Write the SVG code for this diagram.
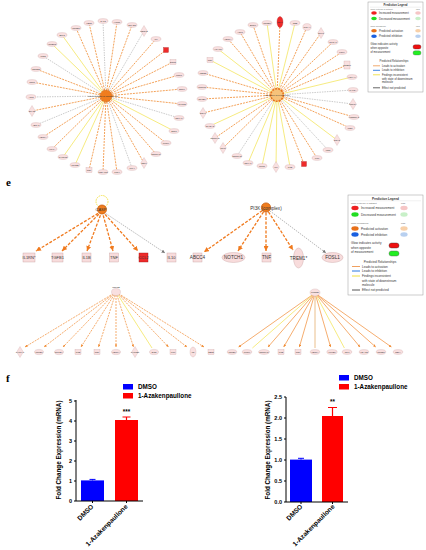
<svg xmlns="http://www.w3.org/2000/svg" xmlns:xlink="http://www.w3.org/1999/xlink" width="426" height="550" viewBox="0 0 426 550">
<defs>
<style>
text{font-family:"Liberation Sans",Arial,sans-serif;fill:#333}
.o{stroke:#f08a30;stroke-width:.8;stroke-dasharray:2 1;fill:none}
.g{stroke:#a8a8a8;stroke-width:.6;stroke-dasharray:1.5 1;fill:none}
.y{stroke:#f2e24a;stroke-width:.7;fill:none}
.os{stroke:#f08a30;stroke-width:.7;fill:none;marker-end:url(#as)}
.ods{stroke:#f08a30;stroke-width:.7;stroke-dasharray:2 1;fill:none;marker-end:url(#as)}
.ys{stroke:#f2e24a;stroke-width:.7;fill:none}
.ts{stroke:#e8b880;stroke-width:.9;fill:none}
.oa{stroke:#f07a1e;stroke-width:1.3;stroke-dasharray:3 1.5;fill:none;marker-end:url(#ao)}
.ga{stroke:#8a8a8a;stroke-width:.6;stroke-dasharray:1.5 1;fill:none;marker-end:url(#ag)}
.nd ellipse,.nd rect,.nd path,.nd polygon,.nd use{fill:#f9e0e0;stroke:#c9a2a2;stroke-width:.3}
.nd .red{fill:#ee2a2a;stroke:#a01818}
.nd text{font-size:2.2px;text-anchor:middle}
.md rect,.md ellipse{fill:#f8dcdc;stroke:#c8a0a0;stroke-width:.4}
.md .red{fill:#ee2a2a;stroke:#a01818}
.md text{font-size:4px;text-anchor:middle}
.ctr{fill:#f07d1e;stroke:#c85e10;stroke-width:.8}
.lg text{font-size:2.75px}
.lg .ttl{font-weight:bold;text-anchor:middle}
.lg .sm{font-size:2.1px;fill:#666}
.lg2 text{font-size:3.1px}
.lg2 .ttl{font-weight:bold;text-anchor:middle}
.lg2 .sm{font-size:2.4px;fill:#666}
.ax{stroke:#000;stroke-width:1;fill:none}
.tk{font-size:5.5px;font-weight:bold;text-anchor:end;fill:#000}
.cl{font-size:6.3px;font-weight:bold;fill:#000}
.xl{font-size:6.6px;font-weight:bold;fill:#000;text-anchor:end}
.pl{font-family:"Liberation Serif","Times New Roman",serif;font-weight:bold;font-size:11px;fill:#000}
</style>
<marker id="ao" viewBox="0 0 10 10" refX="10" refY="5" markerWidth="5" markerHeight="5" markerUnits="userSpaceOnUse" orient="auto"><path d="M0,0 L10,5 L0,10 Z" fill="#f07a1e"/></marker>
<marker id="ag" viewBox="0 0 10 10" refX="10" refY="5" markerWidth="3.5" markerHeight="3.5" markerUnits="userSpaceOnUse" orient="auto"><path d="M0,0 L10,5 L0,10 Z" fill="#777"/></marker>
<marker id="as" viewBox="0 0 10 10" refX="10" refY="5" markerWidth="2.6" markerHeight="2.6" markerUnits="userSpaceOnUse" orient="auto"><path d="M0,0 L10,5 L0,10 Z" fill="#f08a30"/></marker>
<path id="dia" d="M0,-5.5 L3.3,0 L0,5.5 L-3.3,0 Z"/>
</defs>
<rect width="426" height="550" fill="#fff"/>

<!-- connectors -->
<g id="connectors">
<g id="edges-top-left">
<line x1="106" y1="96" x2="103" y2="21" class="g"/>
<line x1="106" y1="96" x2="117" y2="22" class="o"/>
<line x1="106" y1="96" x2="132" y2="25" class="o"/>
<line x1="106" y1="96" x2="144" y2="31" class="g"/>
<line x1="106" y1="96" x2="156" y2="39" class="o"/>
<line x1="106" y1="96" x2="166" y2="50" class="o"/>
<line x1="106" y1="96" x2="173" y2="62" class="o"/>
<line x1="106" y1="96" x2="179" y2="75" class="o"/>
<line x1="106" y1="96" x2="182" y2="89" class="o"/>
<line x1="106" y1="96" x2="182" y2="104" class="o"/>
<line x1="106" y1="96" x2="179" y2="118" class="g"/>
<line x1="106" y1="96" x2="174" y2="131" class="y"/>
<line x1="106" y1="96" x2="166" y2="143" class="o"/>
<line x1="106" y1="96" x2="156" y2="154" class="o"/>
<line x1="106" y1="96" x2="144" y2="163" class="o"/>
<line x1="106" y1="96" x2="132" y2="168" class="g"/>
<line x1="106" y1="96" x2="117" y2="172" class="o"/>
<line x1="106" y1="96" x2="103" y2="172" class="o"/>
<line x1="106" y1="96" x2="89" y2="170" class="o"/>
<line x1="106" y1="96" x2="75" y2="165" class="y"/>
<line x1="106" y1="96" x2="63" y2="157" class="y"/>
<line x1="106" y1="96" x2="52" y2="149" class="o"/>
<line x1="106" y1="96" x2="43" y2="137" class="o"/>
<line x1="106" y1="96" x2="36" y2="125" class="g"/>
<line x1="106" y1="96" x2="32" y2="111" class="o"/>
<line x1="106" y1="96" x2="31" y2="97" class="g"/>
<line x1="106" y1="96" x2="32" y2="82" class="o"/>
<line x1="106" y1="96" x2="36" y2="69" class="o"/>
<line x1="106" y1="96" x2="43" y2="56" class="g"/>
<line x1="106" y1="96" x2="52" y2="44" class="y"/>
<line x1="106" y1="96" x2="62" y2="35" class="y"/>
<line x1="106" y1="96" x2="76" y2="28" class="o"/>
<line x1="106" y1="96" x2="89" y2="23" class="o"/>
</g>
<g id="edges-top-right">
<line x1="277" y1="95" x2="240" y2="32" class="o"/>
<line x1="277" y1="95" x2="253" y2="25" class="o"/>
<line x1="277" y1="95" x2="267" y2="23" class="y"/>
<line x1="277" y1="95" x2="280" y2="23" class="o"/>
<line x1="277" y1="95" x2="295" y2="23" class="y"/>
<line x1="277" y1="95" x2="307" y2="27" class="o"/>
<line x1="277" y1="95" x2="321" y2="33" class="o"/>
<line x1="277" y1="95" x2="333" y2="42" class="o"/>
<line x1="277" y1="95" x2="342" y2="52" class="o"/>
<line x1="277" y1="95" x2="347" y2="65" class="o"/>
<line x1="277" y1="95" x2="352" y2="77" class="y"/>
<line x1="277" y1="95" x2="353" y2="90" class="g"/>
<line x1="277" y1="95" x2="353" y2="104" class="g"/>
<line x1="277" y1="95" x2="354" y2="117" class="o"/>
<line x1="277" y1="95" x2="350" y2="128" class="o"/>
<line x1="277" y1="95" x2="337" y2="140" class="y"/>
<line x1="277" y1="95" x2="328" y2="150" class="g"/>
<line x1="277" y1="95" x2="317" y2="158" class="o"/>
<line x1="277" y1="95" x2="304" y2="164" class="o"/>
<line x1="277" y1="95" x2="290" y2="167" class="y"/>
<line x1="277" y1="95" x2="276" y2="167" class="y"/>
<line x1="277" y1="95" x2="262" y2="166" class="y"/>
<line x1="277" y1="95" x2="248" y2="163" class="y"/>
<line x1="277" y1="95" x2="237" y2="156" class="g"/>
<line x1="277" y1="95" x2="223" y2="148" class="o"/>
<line x1="277" y1="95" x2="215" y2="138" class="o"/>
<line x1="277" y1="95" x2="210" y2="126" class="y"/>
<line x1="277" y1="95" x2="203" y2="113" class="o"/>
<line x1="277" y1="95" x2="202" y2="99" class="o"/>
<line x1="277" y1="95" x2="202" y2="87" class="o"/>
<line x1="277" y1="95" x2="203" y2="73" class="o"/>
<line x1="277" y1="95" x2="210" y2="60" class="y"/>
<line x1="277" y1="95" x2="218" y2="49" class="y"/>
<line x1="277" y1="95" x2="228" y2="39" class="o"/>
</g>
<g id="edges-mid">
<line x1="102" y1="211" x2="36" y2="251" class="oa"/>
<line x1="102" y1="211" x2="62" y2="251" class="oa"/>
<line x1="102" y1="211" x2="87" y2="251" class="oa"/>
<line x1="102" y1="211" x2="113" y2="251" class="oa"/>
<line x1="102" y1="211" x2="138" y2="251" class="oa"/>
<line x1="102" y1="211" x2="165" y2="253" class="ga"/>
<line x1="266" y1="208" x2="204" y2="252" class="oa"/>
<line x1="266" y1="208" x2="238" y2="251" class="oa"/>
<line x1="266" y1="208" x2="266" y2="251" class="oa"/>
<line x1="266" y1="208" x2="293" y2="250" class="oa"/>
<line x1="266" y1="208" x2="326" y2="253" class="ga"/>
</g>
<g id="edges-bottom-left">
<line x1="116" y1="292" x2="25" y2="347" class="ods"/>
<line x1="116" y1="292" x2="44" y2="347" class="ods"/>
<line x1="116" y1="292" x2="63" y2="347" class="ods"/>
<line x1="116" y1="292" x2="81" y2="347" class="ods"/>
<line x1="116" y1="292" x2="98.5" y2="347" class="ods"/>
<line x1="116" y1="292" x2="116" y2="347" class="ods"/>
<line x1="116" y1="292" x2="133.5" y2="347" class="ods"/>
<line x1="116" y1="292" x2="152" y2="348" class="ys"/>
<line x1="116" y1="292" x2="168.5" y2="347" class="ods"/>
<line x1="116" y1="292" x2="187" y2="347" class="ods"/>
<line x1="116" y1="292" x2="204" y2="347" class="ods"/>
</g>
<g id="edges-bottom-right">
<line x1="315" y1="293" x2="238.6" y2="347" class="os"/>
<line x1="315" y1="293" x2="252.4" y2="348" class="ys"/>
<line x1="315" y1="293" x2="268" y2="347" class="os"/>
<line x1="315" y1="293" x2="283.7" y2="347" class="os"/>
<line x1="315" y1="293" x2="299.4" y2="347" class="os"/>
<line x1="315" y1="293" x2="315" y2="348" class="ts"/>
<line x1="315" y1="293" x2="330.6" y2="347" class="os"/>
<line x1="315" y1="293" x2="344.4" y2="348" class="ys"/>
<line x1="315" y1="293" x2="360" y2="347" class="os"/>
<line x1="315" y1="293" x2="375.7" y2="347" class="os"/>
<line x1="315" y1="293" x2="391.4" y2="347" class="os"/>
</g>
</g>

<!-- top-left network nodes -->
<g class="nd">
<g id="tl-center"><circle cx="106" cy="96" r="6" class="ctr" stroke-dasharray="1.5 1"/><text x="103" y="97" style="font-size:2.4px">differentiation of phagocytes</text></g>
<g id="tl1"><ellipse cx="103" cy="21" rx="5" ry="2.4"/><text x="103" y="21.8">GAL3</text></g>
<g id="tl2"><ellipse cx="117" cy="22" rx="5" ry="2.4"/><text x="117" y="22.8">HCCR</text></g>
<g id="tl3"><ellipse cx="132" cy="25" rx="5" ry="2.4"/><text x="132" y="25.8">SMAD3</text></g>
<g id="tl4"><use xlink:href="#dia" x="144" y="31"/><text x="144" y="31.8">MEOX2</text></g>
<g id="tl5"><ellipse cx="156" cy="39" rx="5" ry="2.4"/><text x="156" y="39.8">IL6</text></g>
<g id="tl6"><rect x="163.5" y="47.5" width="5" height="5" class="red"/></g>
<g id="tl7"><rect x="170" y="59.5" width="6" height="5"/><text x="173" y="62.8">EGR1</text></g>
<g id="tl8"><ellipse cx="179" cy="75" rx="5" ry="2.4"/><text x="179" y="75.8">MCP1</text></g>
<g id="tl9"><ellipse cx="182" cy="89" rx="5" ry="2.4"/><text x="182" y="89.8">BCL6</text></g>
<g id="tl10"><ellipse cx="182" cy="104" rx="5" ry="2.4"/><text x="182" y="104.8">CXCR2</text></g>
<g id="tl11"><ellipse cx="179" cy="118" rx="5" ry="2.4"/><text x="179" y="118.8">NR4A1</text></g>
<g id="tl12"><ellipse cx="174" cy="131" rx="5" ry="2.4"/><text x="174" y="131.8">SPP1</text></g>
<g id="tl13"><ellipse cx="166" cy="143" rx="5" ry="2.4"/><text x="166" y="143.8">MMP9</text></g>
<g id="tl14"><ellipse cx="156" cy="154" rx="5" ry="2.4"/><text x="156" y="154.8">NOTCH1</text></g>
<g id="tl15"><use xlink:href="#dia" x="144" y="163"/><text x="144" y="163.8">CD14</text></g>
<g id="tl16"><ellipse cx="132" cy="168" rx="5" ry="2.4"/><text x="132" y="168.8">KLF4</text></g>
<g id="tl17"><ellipse cx="117" cy="172" rx="5" ry="2.4"/><text x="117" y="172.8">TLR4</text></g>
<g id="tl18"><ellipse cx="103" cy="172" rx="5" ry="2.4"/><text x="103" y="172.8">TNFAIP3</text></g>
<g id="tl19"><rect x="86" y="167.5" width="6" height="5"/><text x="89" y="170.8">TNF</text></g>
<g id="tl20"><ellipse cx="75" cy="165" rx="5" ry="2.4"/><text x="75" y="165.8">PTGS2</text></g>
<g id="tl21"><ellipse cx="63" cy="157" rx="5" ry="2.4"/><text x="63" y="157.8">CXCL12</text></g>
<g id="tl22"><ellipse cx="52" cy="149" rx="5" ry="2.4"/><text x="52" y="149.8">HIF1A</text></g>
<g id="tl23"><ellipse cx="43" cy="137" rx="5" ry="2.4"/><text x="43" y="137.8">VEGFA</text></g>
<g id="tl24"><ellipse cx="36" cy="125" rx="5" ry="2.4"/><text x="36" y="125.8">ABCA1</text></g>
<g id="tl25"><use xlink:href="#dia" x="32" y="111"/><text x="32" y="111.8">STAT3</text></g>
<g id="tl26"><ellipse cx="31" cy="97" rx="5" ry="2.4"/><text x="31" y="97.8">ATF3</text></g>
<g id="tl27"><ellipse cx="32" cy="82" rx="5" ry="2.4"/><text x="32" y="82.8">CCL5</text></g>
<g id="tl28"><ellipse cx="36" cy="69" rx="5" ry="2.4"/><text x="36" y="69.8">SOCS3</text></g>
<g id="tl29"><ellipse cx="43" cy="56" rx="5" ry="2.4"/><text x="43" y="56.8">ICOS</text></g>
<g id="tl30"><ellipse cx="52" cy="44" rx="5" ry="2.4"/><text x="52" y="44.8">IGFBP3</text></g>
<g id="tl31"><ellipse cx="62" cy="35" rx="5" ry="2.4"/><text x="62" y="35.8">ELF3</text></g>
<g id="tl32"><ellipse cx="76" cy="28" rx="5" ry="2.4"/><text x="76" y="28.8">CCND1</text></g>
<g id="tl33"><ellipse cx="89" cy="23" rx="5" ry="2.4"/><text x="89" y="23.8">HES1</text></g>
</g>

<!-- top-right network nodes -->
<g class="nd">
<g id="tr-center"><circle cx="277" cy="95" r="6.3" fill="#f6c27a" stroke="#e8731a" stroke-width="1.6" stroke-dasharray="2 1"/><text x="277" y="96" style="font-size:2.4px">activation of leukocytes</text></g>
<g id="tr1"><ellipse cx="240" cy="32" rx="5" ry="2.4"/><text x="240" y="32.8">AQP1</text></g>
<g id="tr2"><ellipse cx="253" cy="25" rx="5" ry="2.4"/><text x="253" y="25.8">BMP6</text></g>
<g id="tr3"><ellipse cx="267" cy="23" rx="5" ry="2.4"/><text x="267" y="23.8">CCND1</text></g>
<g id="tr4"><ellipse cx="280" cy="22" rx="3" ry="5.5" class="red"/><text x="280" y="22.8">CD44</text></g>
<g id="tr5"><ellipse cx="295" cy="23" rx="5" ry="2.4"/><text x="295" y="23.8">CSB</text></g>
<g id="tr6"><ellipse cx="307" cy="27" rx="4.2" ry="3.4"/><text x="307" y="27.8">CTLA4</text></g>
<g id="tr7"><use xlink:href="#dia" x="321" y="33"/><text x="321" y="33.8">DKK1</text></g>
<g id="tr8"><ellipse cx="333" cy="42" rx="5" ry="2.4"/><text x="333" y="42.8">GFRA1</text></g>
<g id="tr9"><ellipse cx="342" cy="52" rx="5" ry="2.4"/><text x="342" y="52.8">FGF9</text></g>
<g id="tr10"><rect x="344" y="61" width="6" height="8"/><text x="347" y="65.8">GREM1</text></g>
<g id="tr11"><ellipse cx="352" cy="77" rx="5" ry="2.4"/><text x="352" y="77.8">HOXA9</text></g>
<g id="tr12"><ellipse cx="353" cy="90" rx="5" ry="2.4"/><text x="353" y="90.8">PAK2A</text></g>
<g id="tr13"><use xlink:href="#dia" x="353" y="104"/><text x="353" y="104.8">PRKCA</text></g>
<g id="tr14"><ellipse cx="354" cy="117" rx="5" ry="2.4"/><text x="354" y="117.8">HNRNPA1</text></g>
<g id="tr15"><ellipse cx="350" cy="128" rx="5" ry="2.4"/><text x="350" y="128.8">IRS1</text></g>
<g id="tr16"><use xlink:href="#dia" x="337" y="140"/><text x="337" y="140.8">SOX2</text></g>
<g id="tr17"><ellipse cx="328" cy="150" rx="5" ry="2.4"/><text x="328" y="150.8">KDR</text></g>
<g id="tr18"><ellipse cx="317" cy="158" rx="5" ry="2.4"/><text x="317" y="158.8">IL10</text></g>
<g id="tr19"><rect x="301.5" y="161.5" width="5" height="5" class="red"/></g>
<g id="tr20"><ellipse cx="290" cy="167" rx="5" ry="2.4"/><text x="290" y="167.8">IL1B</text></g>
<g id="tr21"><use xlink:href="#dia" x="276" y="167"/><text x="276" y="167.8">ILK</text></g>
<g id="tr22"><ellipse cx="262" cy="166" rx="5" ry="2.4"/><text x="262" y="166.8">MUC1</text></g>
<g id="tr23"><ellipse cx="248" cy="163" rx="5" ry="2.4"/><text x="248" y="163.8">NR4A1</text></g>
<g id="tr24"><ellipse cx="237" cy="156" rx="5" ry="2.4"/><text x="237" y="156.8">NOTCH3</text></g>
<g id="tr25"><use xlink:href="#dia" x="223" y="148"/><text x="223" y="148.8">PPIG</text></g>
<g id="tr26"><use xlink:href="#dia" x="215" y="138"/><text x="215" y="138.8">NOTCH2</text></g>
<g id="tr27"><ellipse cx="210" cy="126" rx="5" ry="2.4"/><text x="210" y="126.8">SHISA3</text></g>
<g id="tr28"><use xlink:href="#dia" x="203" y="113"/><text x="203" y="113.8">SOX9</text></g>
<g id="tr29"><ellipse cx="202" cy="99" rx="5" ry="2.4"/><text x="202" y="99.8">NFKB1</text></g>
<g id="tr30"><ellipse cx="202" cy="87" rx="5" ry="2.4"/><text x="202" y="87.8">MMP13</text></g>
<g id="tr31"><ellipse cx="203" cy="73" rx="5" ry="2.4"/><text x="203" y="73.8">MEIS2</text></g>
<g id="tr32"><rect x="207" y="57.5" width="6" height="5"/><text x="210" y="60.8">TNF</text></g>
<g id="tr33"><ellipse cx="218" cy="49" rx="5" ry="2.4"/><text x="218" y="49.8">VCAM1</text></g>
<g id="tr34"><ellipse cx="228" cy="39" rx="5" ry="2.4"/><text x="228" y="39.8">VEGFA</text></g>
</g>

<!-- legend 1 -->
<g id="legend1" class="lg">
<rect x="368" y="2" width="55" height="90" fill="#fff" stroke="#9a9a9a" stroke-width=".5"/>
<text x="395.5" y="6" class="ttl">Prediction Legend</text>
<line x1="370" y1="7.2" x2="421" y2="7.2" stroke="#ccc" stroke-width=".3"/>
<text x="370.5" y="10" class="sm">more extreme in dataset</text><text x="416" y="10" class="sm">less</text>
<ellipse cx="374" cy="13" rx="2.8" ry="1.7" fill="#ee2020"/><text x="379" y="14">Increased measurement</text><ellipse cx="418" cy="13" rx="2.8" ry="1.7" fill="#f6c6c6"/>
<ellipse cx="374" cy="18.5" rx="2.8" ry="1.7" fill="#22dd22"/><text x="379" y="19.5">Decreased measurement</text><ellipse cx="418" cy="18.5" rx="2.8" ry="1.7" fill="#c8f0c8"/>
<text x="370.5" y="27" class="sm">more confidence</text><text x="416" y="27" class="sm">less</text>
<ellipse cx="374" cy="30.8" rx="2.8" ry="1.7" fill="#e8701a"/><text x="379" y="31.8">Predicted activation</text><ellipse cx="418" cy="30.8" rx="2.8" ry="1.7" fill="#f8d0a8"/>
<ellipse cx="374" cy="36.3" rx="2.8" ry="1.7" fill="#1a60e0"/><text x="379" y="37.3">Predicted inhibition</text><ellipse cx="418" cy="36.3" rx="2.8" ry="1.7" fill="#b8d0f0"/>
<text x="370.5" y="45">Glow indicates activity</text><text x="370.5" y="49">when opposite</text><text x="370.5" y="53">of measurement</text>
<rect x="413" y="44.8" width="8" height="4.2" rx="2" fill="#ee1010" stroke="#333" stroke-width=".3"/>
<rect x="413" y="50.8" width="8" height="4.2" rx="2" fill="#22ee22" stroke="#555" stroke-width=".3"/>
<text x="394" y="62" text-anchor="middle">Predicted Relationships</text>
<line x1="373" y1="65.8" x2="380" y2="65.8" stroke="#f0a060" stroke-width=".9"/><text x="382" y="66.8">Leads to activation</text>
<line x1="373" y1="70.3" x2="380" y2="70.3" stroke="#2a78e0" stroke-width=".9"/><text x="382" y="71.3">Leads to inhibition</text>
<line x1="373" y1="74.8" x2="380" y2="74.8" stroke="#f0e040" stroke-width=".9"/><text x="382" y="75.8">Findings inconsistent</text><text x="382" y="79.5">with state of downstream</text><text x="382" y="83.2">molecule</text>
<line x1="373" y1="87.8" x2="380" y2="87.8" stroke="#555" stroke-width=".9"/><text x="382" y="88.8">Effect not predicted</text>
</g>

<text x="6" y="186" class="pl">e</text>

<!-- middle row -->
<g class="md">
<g id="casp"><circle cx="102" cy="201.5" r="6" fill="none" stroke="#f2e040" stroke-width=".9" stroke-dasharray="1.6 .8"/><circle cx="102" cy="209.5" r="4.5" class="ctr"/><text x="101" y="211">CASP</text></g>
<g id="il1rn"><rect x="23" y="253" width="12" height="9"/><text x="29" y="259.3">IL1RN*</text></g>
<g id="tgfb1"><rect x="52" y="253" width="11" height="9"/><text x="57.5" y="259.3">TGFB1</text></g>
<g id="il1b"><rect x="82" y="253" width="9" height="9"/><text x="86.5" y="259.3">IL1B</text></g>
<g id="tnf1"><rect x="109.5" y="253" width="9" height="9"/><text x="114" y="259.3">TNF</text></g>
<g id="ccl2"><rect x="139" y="253" width="9" height="9" class="red"/><text x="143.5" y="259.3">CCL2</text></g>
<g id="il10"><rect x="167" y="253" width="9" height="9"/><text x="171.5" y="259.3">IL10</text></g>
<g id="pi3k"><circle cx="266" cy="207.5" r="4.6" class="ctr"/><text x="266" y="210" style="font-size:4.6px">PI3K (complex)</text></g>
<g id="abcc4"><rect x="193" y="253" width="9" height="9"/><text x="197.5" y="259.3" style="font-size:4.6px">ABCC4</text></g>
<g id="notch1"><ellipse cx="233.5" cy="257.5" rx="11.5" ry="5"/><text x="233.5" y="259.2" style="font-size:4.6px">NOTCH1</text></g>
<g id="tnf2"><rect x="262" y="253" width="9" height="9"/><text x="266.5" y="259.3" style="font-size:4.6px">TNF</text></g>
<g id="trem1"><ellipse cx="298.5" cy="258" rx="5" ry="10"/><text x="298.5" y="259.7" style="font-size:4.6px">TREM1*</text></g>
<g id="fosl1"><ellipse cx="332.5" cy="257.5" rx="10.5" ry="5"/><text x="332.5" y="259.2" style="font-size:4.6px">FOSL1</text></g>
</g>

<!-- legend 2 -->
<g id="legend2" class="lg2">
<rect x="348" y="195" width="75" height="100" fill="#fff" stroke="#9a9a9a" stroke-width=".5"/>
<text x="385.5" y="199.5" class="ttl">Prediction Legend</text>
<line x1="350" y1="200.8" x2="421" y2="200.8" stroke="#ccc" stroke-width=".3"/>
<text x="351" y="203.5" class="sm">more extreme in dataset</text><text x="401" y="203.5" class="sm">less</text>
<ellipse cx="355" cy="208" rx="3.6" ry="2.2" fill="#ee2020"/><text x="361" y="209.1">Increased measurement</text><ellipse cx="404" cy="208" rx="3.6" ry="2.2" fill="#f6c6c6"/>
<ellipse cx="355" cy="214.5" rx="3.6" ry="2.2" fill="#22dd22"/><text x="361" y="215.6">Decreased measurement</text><ellipse cx="404" cy="214.5" rx="3.6" ry="2.2" fill="#c8f0c8"/>
<text x="351" y="223.5" class="sm">more confidence</text><text x="401" y="223.5" class="sm">less</text>
<ellipse cx="355" cy="228.5" rx="3.6" ry="2.2" fill="#e8701a"/><text x="361" y="229.6">Predicted activation</text><ellipse cx="404" cy="228.5" rx="3.6" ry="2.2" fill="#f8d0a8"/>
<ellipse cx="355" cy="234.5" rx="3.6" ry="2.2" fill="#1a60e0"/><text x="361" y="235.6">Predicted inhibition</text><ellipse cx="404" cy="234.5" rx="3.6" ry="2.2" fill="#b8d0f0"/>
<text x="351" y="244">Glow indicates activity</text><text x="351" y="248.5">when opposite</text><text x="351" y="253">of measurement</text>
<rect x="389" y="243" width="10" height="5" rx="2.5" fill="#ee1010" stroke="#333" stroke-width=".4"/>
<rect x="389" y="251" width="10" height="5" rx="2.5" fill="#22ee22" stroke="#555" stroke-width=".4"/>
<text x="380" y="263" text-anchor="middle">Predicted Relationships</text>
<line x1="352" y1="266.5" x2="360" y2="266.5" stroke="#f0a060" stroke-width="1"/><text x="362" y="267.6">Leads to activation</text>
<line x1="352" y1="271" x2="360" y2="271" stroke="#2a78e0" stroke-width="1"/><text x="362" y="272.1">Leads to inhibition</text>
<line x1="352" y1="276" x2="360" y2="276" stroke="#f0e040" stroke-width="1"/><text x="362" y="277.1">Findings inconsistent</text><text x="362" y="281.5">with state of downstream</text><text x="362" y="286">molecule</text>
<line x1="352" y1="290" x2="360" y2="290" stroke="#555" stroke-width="1"/><text x="362" y="291.1">Effect not predicted</text>
</g>

<!-- bottom-left network -->
<g class="nd">
<g id="bl-center"><ellipse cx="116" cy="292" rx="4.5" ry="3.5" class="ctr"/><text x="116" y="288" style="font-size:2.3px">GSK3B</text></g>
<g id="bl1"><use xlink:href="#dia" x="20" y="352"/><text x="20" y="352.8">CYP1A1</text></g>
<g id="bl2"><ellipse cx="39" cy="352" rx="4.5" ry="2.6"/><text x="39" y="352.8">TGFB1</text></g>
<g id="bl3"><ellipse cx="59" cy="352" rx="4.5" ry="2.6"/><text x="59" y="352.8">NFKBIA</text></g>
<g id="bl4"><rect x="75" y="349.5" width="6" height="5"/><text x="78" y="352.8">IL1B</text></g>
<g id="bl5"><rect x="94" y="349.5" width="6" height="5"/><text x="97" y="352.8">TNF</text></g>
<g id="bl6"><ellipse cx="116" cy="352" rx="4.5" ry="2.6"/><text x="116" y="352.8">VEGFA</text></g>
<g id="bl7"><use xlink:href="#dia" x="135" y="352"/><text x="135" y="352.8">CYP1B1</text></g>
<g id="bl8"><ellipse cx="154" cy="352" rx="4.5" ry="2.6"/><text x="154" y="352.8">IDO1</text></g>
<g id="bl9"><rect x="170" y="349.5" width="6" height="5"/><text x="173" y="352.8">IL10</text></g>
<g id="bl10"><ellipse cx="193" cy="352" rx="3" ry="5"/><text x="193" y="352.8">F3</text></g>
<g id="bl11"><rect x="208" y="349.5" width="6" height="5"/><text x="211" y="352.8">SELE</text></g>
</g>

<!-- bottom-right network -->
<g class="nd">
<g id="br-center"><ellipse cx="315" cy="292.5" rx="5" ry="3.6" class="ctr"/><text x="315" y="293.3" style="font-size:2px">CTNNB1</text></g>
<g id="br1"><ellipse cx="232" cy="352" rx="4.8" ry="2.4"/><text x="232" y="352.8">TGFB1</text></g>
<g id="br2"><ellipse cx="247" cy="352" rx="4.8" ry="2.4"/><text x="247" y="352.8">MMP9</text></g>
<g id="br3"><ellipse cx="264" cy="352" rx="5.5" ry="2.4"/><text x="264" y="352.8">NOTCH1</text></g>
<g id="br4"><rect x="278" y="349.5" width="6" height="5"/><text x="281" y="352.8">IL1B</text></g>
<g id="br5"><rect x="295" y="349.5" width="6" height="5"/><text x="298" y="352.8">TNF</text></g>
<g id="br6"><ellipse cx="315" cy="352" rx="4.8" ry="2.4"/><text x="315" y="352.8">VEGFA</text></g>
<g id="br7"><ellipse cx="332" cy="352" rx="5.2" ry="2.4"/><text x="332" y="352.8">KLKB1</text></g>
<g id="br8"><ellipse cx="347" cy="352" rx="4.8" ry="2.4"/><text x="347" y="352.8">IRF7</text></g>
<g id="br9"><ellipse cx="364" cy="352" rx="4.8" ry="2.4"/><text x="364" y="352.8">HDAC2</text></g>
<g id="br10"><ellipse cx="381" cy="352" rx="4.8" ry="2.4"/><text x="381" y="352.8">CCND1</text></g>
<g id="br11"><ellipse cx="398" cy="352" rx="4.8" ry="2.4"/><text x="398" y="352.8">RELA</text></g>
</g>

<text x="6" y="382" class="pl">f</text>

<!-- chart 1 -->
<g id="chart1">
<rect x="123" y="384" width="10" height="5.5" fill="#0000ff"/><text x="138" y="389.2" class="cl">DMSO</text>
<rect x="123" y="393" width="10" height="5.5" fill="#ff0000"/><text x="138" y="398.2" class="cl">1-Azakenpaullone</text>
<text transform="translate(61,450) rotate(-90)" class="cl" text-anchor="middle">Fold Change Expression (mRNA)</text>
<rect x="81" y="480.4" width="23" height="20.6" fill="#0000ff"/>
<rect x="115" y="420" width="23" height="81" fill="#ff0000"/>
<path d="M92.5,480.4 V479.4 M89.5,479.4 H95.5" stroke="#0000ff" stroke-width="1"/>
<path d="M126.5,420 V417 M122.5,417 H130.5" stroke="#ff0000" stroke-width="1.2"/>
<text x="126.5" y="414" class="cl" text-anchor="middle">***</text>
<path d="M76,400 V501 H143 M74,401 H76 M74,421 H76 M74,441 H76 M74,461 H76 M74,481 H76 M74,501 H76 M92.5,501 V503 M126.5,501 V503" class="ax"/>
<text x="72" y="403" class="tk">5</text><text x="72" y="423" class="tk">4</text><text x="72" y="443" class="tk">3</text><text x="72" y="463" class="tk">2</text><text x="72" y="483" class="tk">1</text><text x="72" y="503" class="tk">0</text>
<text transform="translate(94,507) rotate(-45)" class="xl">DMSO</text>
<text transform="translate(128,507) rotate(-45)" class="xl">1-Azakenpaullone</text>
</g>

<!-- chart 2 -->
<g id="chart2">
<rect x="339" y="375" width="10" height="5.5" fill="#0000ff"/><text x="354" y="380.2" class="cl">DMSO</text>
<rect x="339" y="384" width="10" height="5.5" fill="#ff0000"/><text x="354" y="389.2" class="cl">1-Azakenpaullone</text>
<text transform="translate(270,450) rotate(-90)" class="cl" text-anchor="middle">Fold Change Expression (mRNA)</text>
<rect x="290" y="459.6" width="22" height="42.4" fill="#0000ff"/>
<rect x="322" y="416" width="21" height="86" fill="#ff0000"/>
<path d="M301,459.6 V458.3 M298,458.3 H304" stroke="#0000ff" stroke-width="1"/>
<path d="M332.5,416 V407.5 M328,407.5 H337" stroke="#ff0000" stroke-width="1.2"/>
<text x="332.5" y="404" class="cl" text-anchor="middle">**</text>
<path d="M286,397 V502 H348 M284,397 H286 M284,418 H286 M284,439 H286 M284,460 H286 M284,481 H286 M284,502 H286 M301,502 V504 M332.5,502 V504" class="ax"/>
<text x="282" y="399" class="tk">2.5</text><text x="282" y="420" class="tk">2.0</text><text x="282" y="441" class="tk">1.5</text><text x="282" y="462" class="tk">1.0</text><text x="282" y="483" class="tk">0.5</text><text x="282" y="504" class="tk">0.0</text>
<text transform="translate(303,507) rotate(-45)" class="xl">DMSO</text>
<text transform="translate(335,507) rotate(-45)" class="xl">1-Azakenpaullone</text>
</g>
</svg>
